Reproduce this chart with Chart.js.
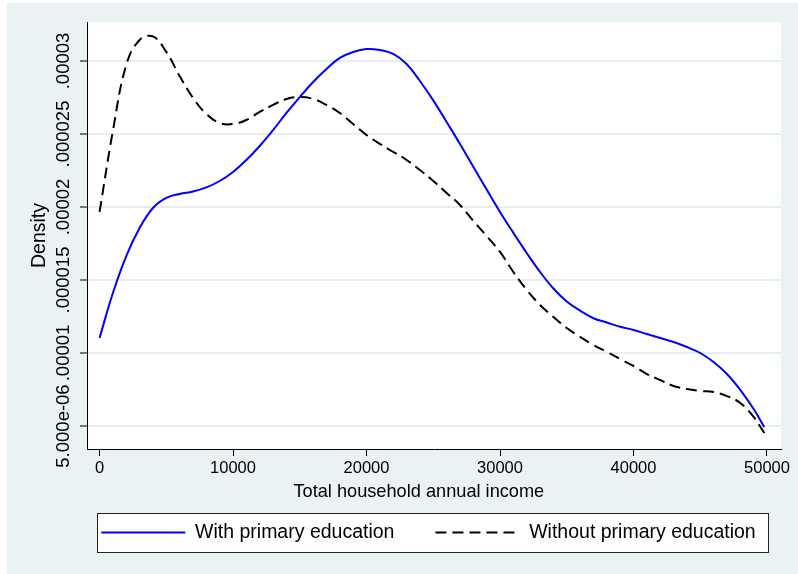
<!DOCTYPE html>
<html>
<head>
<meta charset="utf-8">
<script src="https://cdn.jsdelivr.net/npm/chart.js@4/dist/chart.umd.min.js"></script>
<style>
  html, body { margin: 0; padding: 0; background: #ffffff; }
  canvas { display: block; }
</style>
</head>
<body>
<canvas id="density" width="798" height="574"></canvas>
<script>
// Kernel density estimates of total household annual income, by education
const incomes = [
  0, 1000, 2000, 3000, 4000, 5000, 6000, 7000, 8000, 9000,
  10000, 11000, 12000, 13000, 14000, 15000, 16000, 17000, 18000, 19000,
  20000, 21000, 22000, 23000, 24000, 25000, 26000, 27000, 28000, 29000,
  30000, 31000, 32000, 33000, 34000, 35000, 36000, 37000, 38000, 39000,
  40000, 41000, 42000, 43000, 44000, 45000, 46000, 47000, 48000, 49000,
  49800
];
const withPrimary = [
  11.03e-6, 14.11e-6, 16.64e-6, 18.56e-6, 19.93e-6, 20.62e-6, 20.89e-6, 21.06e-6, 21.34e-6, 21.78e-6,
  22.40e-6, 23.22e-6, 24.18e-6, 25.27e-6, 26.44e-6, 27.53e-6, 28.56e-6, 29.45e-6, 30.21e-6, 30.62e-6,
  30.82e-6, 30.75e-6, 30.48e-6, 29.79e-6, 28.63e-6, 27.30e-6, 25.82e-6, 24.32e-6, 22.76e-6, 21.19e-6,
  19.66e-6, 18.23e-6, 16.85e-6, 15.55e-6, 14.42e-6, 13.53e-6, 12.90e-6, 12.38e-6, 12.09e-6, 11.80e-6,
  11.58e-6, 11.30e-6, 11.03e-6, 10.75e-6, 10.41e-6, 10.00e-6, 9.38e-6, 8.56e-6, 7.47e-6, 6.16e-6,
  4.93e-6
];
const withoutPrimary = [
  19.66e-6, 25.21e-6, 29.73e-6, 31.44e-6, 31.68e-6, 30.62e-6, 28.97e-6, 27.47e-6, 26.37e-6, 25.75e-6,
  25.68e-6, 25.96e-6, 26.51e-6, 26.99e-6, 27.40e-6, 27.53e-6, 27.40e-6, 26.99e-6, 26.44e-6, 25.68e-6,
  24.93e-6, 24.32e-6, 23.77e-6, 23.22e-6, 22.53e-6, 21.78e-6, 20.96e-6, 20.14e-6, 19.04e-6, 18.01e-6,
  16.92e-6, 15.55e-6, 14.32e-6, 13.29e-6, 12.47e-6, 11.71e-6, 11.10e-6, 10.55e-6, 10.07e-6, 9.59e-6,
  9.11e-6, 8.56e-6, 8.15e-6, 7.74e-6, 7.53e-6, 7.40e-6, 7.33e-6, 7.05e-6, 6.58e-6, 5.62e-6,
  4.52e-6
];
const seriesNames = ['With primary education', 'Without primary education'];
const xTitle = 'Total household annual income';
const yTitle = 'Density';
const xTickValues = [0, 10000, 20000, 30000, 40000, 50000];
const yTickValues = [5e-6, 1e-5, 1.5e-5, 2e-5, 2.5e-5, 3e-5];
const yTickLabels = ['5.000e-06', '.00001', '.000015', '.00002', '.000025', '.00003'];

// Styling
const FONT = "'Liberation Sans', Arial, Helvetica, sans-serif";
const OUTER_BG = '#EAF2F3';
const GRID = '#E6EEF0';
const X_TICK_SIZE = 16.5;
const Y_TICK_SIZE = 18.5;
const X_TITLE_SIZE = 18.2;
const Y_TITLE_SIZE = 19.5;
const LEGEND_SIZE = 19.5;
const LEGEND_GAP = 41;

// Layout geometry
const CANVAS_W = 798, CANVAS_H = 574;
const PLOT_BOTTOM = 449;
const PLOT_LEFT = 87;
const PLOT_TOP = 22;
const RIGHT_MARGIN = 17;
const LEFT_PAD = 50;            // legend row spans LEFT_PAD..CANVAS_W - RIGHT_PAD
const RIGHT_PAD = -9;
const LEGEND_CENTER_Y = 532.5;
const X_TITLE_Y = 492;
const Y_TITLE_X = 40;
const TICK_LEN = 7;

const legendTop = LEGEND_CENTER_Y - LEGEND_SIZE / 2 - LEGEND_GAP;
const xAxisHeight = legendTop - PLOT_BOTTOM;
const legendHeight = LEGEND_SIZE + LEGEND_GAP + 10;
const bottomPad = CANVAS_H - (legendTop + legendHeight);

// Y tick labels are rotated and centred on a column left of the tick marks
const measure = document.createElement('canvas').getContext('2d');
measure.font = `normal ${Y_TICK_SIZE}px ${FONT}`;
const widestY = Math.max(...yTickLabels.map(s => measure.measureText(s).width));
const yLabelCenter = 64;
const yTickPad = (PLOT_LEFT - TICK_LEN - yLabelCenter) - widestY / 2;

const backdrop = {
  id: 'backdrop',
  beforeDraw(chart) {
    const {ctx, width, height, chartArea: a} = chart;
    ctx.save();
    ctx.fillStyle = '#ffffff';
    ctx.fillRect(0, 0, width, height);
    ctx.fillStyle = OUTER_BG;
    ctx.fillRect(7, 3, width - 7, height - 3);
    ctx.fillStyle = '#ffffff';
    ctx.fillRect(a.left, a.top, a.right - a.left, a.bottom - a.top);
    // framed legend box
    const hb = chart.legend && chart.legend.legendHitBoxes;
    if (hb && hb.length) {
      const last = hb[hb.length - 1];
      const l = Math.round(hb[0].left - 4);
      const r = Math.round(last.left + last.width + 12);
      const t = Math.round(hb[0].top - 10);
      const b = Math.round(hb[0].top + hb[0].height + 10);
      ctx.fillStyle = '#ffffff';
      ctx.fillRect(l, t, r - l, b - t);
      ctx.strokeStyle = '#222222';
      ctx.lineWidth = 1;
      ctx.strokeRect(l + 0.5, t + 0.5, r - l, b - t);
    }
    ctx.restore();
  }
};

// Legend samples take their dash pattern and width from the line datasets
const legendLabels = chart => Chart.defaults.plugins.legend.labels.generateLabels(chart).map(item => {
  const ds = chart.data.datasets[item.datasetIndex];
  return Object.assign(item, {
    lineDash: ds.borderDash || [],
    lineWidth: ds.borderWidth,
    strokeStyle: ds.borderColor
  });
});

new Chart(document.getElementById('density'), {
  type: 'line',
  data: {
    datasets: [
      {
        label: seriesNames[0],
        data: incomes.map((x, i) => ({x, y: withPrimary[i]})),
        borderColor: '#0000FF',
        backgroundColor: '#0000FF',
        borderWidth: 2,
        pointRadius: 0,
        fill: false,
        tension: 0.4
      },
      {
        label: seriesNames[1],
        data: incomes.map((x, i) => ({x, y: withoutPrimary[i]})),
        borderColor: '#000000',
        backgroundColor: '#000000',
        borderWidth: 2,
        borderDash: [11, 6],
        pointRadius: 0,
        fill: false,
        tension: 0.4
      }
    ]
  },
  options: {
    responsive: false,
    animation: false,
    devicePixelRatio: 1,
    layout: {
      padding: {top: PLOT_TOP, right: RIGHT_PAD, bottom: bottomPad, left: LEFT_PAD}
    },
    plugins: {
      tooltip: {enabled: false},
      legend: {
        position: 'bottom',
        fullSize: true,
        align: 'center',
        labels: {
          usePointStyle: true,
          pointStyle: 'line',
          pointStyleWidth: 84,
          boxHeight: LEGEND_SIZE,
          padding: LEGEND_GAP,
          color: '#000000',
          font: {family: FONT, size: LEGEND_SIZE},
          generateLabels: legendLabels
        }
      }
    },
    scales: {
      x: {
        type: 'linear',
        position: 'bottom',
        min: -940,
        max: 51050,
        afterBuildTicks: s => { s.ticks = xTickValues.map(v => ({value: v})); },
        afterFit: s => { s.height = xAxisHeight; s.paddingRight = RIGHT_MARGIN; },
        ticks: {
          autoSkip: false,
          maxRotation: 0,
          padding: 3,
          color: '#000000',
          font: {family: FONT, size: X_TICK_SIZE},
          callback: v => String(v)
        },
        grid: {
          display: true,
          drawOnChartArea: false,
          drawTicks: true,
          tickLength: TICK_LEN,
          tickColor: '#000000',
          tickWidth: 1
        },
        border: {display: true, color: '#000000', width: 1},
        title: {
          display: true,
          // trailing spaces shift the centred title slightly left of the axis middle
          text: xTitle + '\u00A0\u00A0\u00A0\u00A0\u00A0\u00A0',
          color: '#000000',
          font: {family: FONT, size: X_TITLE_SIZE},
          padding: {top: 0, bottom: (PLOT_BOTTOM + xAxisHeight) - X_TITLE_SIZE * 0.6 - X_TITLE_Y}
        }
      },
      y: {
        type: 'linear',
        position: 'left',
        min: 3.425e-6,
        max: 3.267e-5,
        afterBuildTicks: s => { s.ticks = yTickValues.map(v => ({value: v})); },
        afterFit: s => { s.width = PLOT_LEFT - LEFT_PAD; },
        ticks: {
          autoSkip: false,
          minRotation: 90,
          maxRotation: 90,
          crossAlign: 'center',
          padding: yTickPad,
          color: '#000000',
          font: {family: FONT, size: Y_TICK_SIZE},
          callback: (v, i) => yTickLabels[i]
        },
        grid: {
          display: true,
          color: GRID,
          lineWidth: 2,
          drawTicks: true,
          tickLength: TICK_LEN,
          tickColor: '#000000',
          tickWidth: 1
        },
        border: {display: true, color: '#000000', width: 1},
        title: {
          display: true,
          text: yTitle,
          color: '#000000',
          font: {family: FONT, size: Y_TITLE_SIZE},
          padding: {top: Y_TITLE_X - LEFT_PAD - Y_TITLE_SIZE * 0.6, bottom: 0}
        }
      }
    }
  },
  plugins: [backdrop]
});
</script>
</body>
</html>
